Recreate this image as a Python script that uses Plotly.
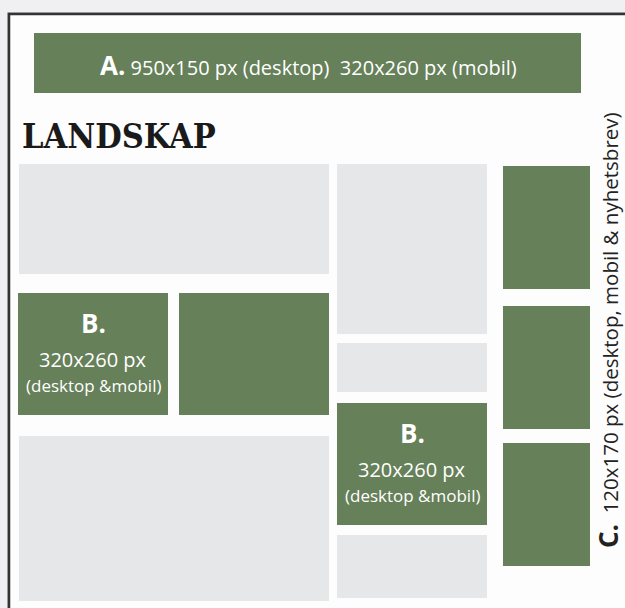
import plotly.graph_objects as go

# Layout diagram: ad placements on a page (units = diagram pixels)
box_names = ["A", "grey1", "B1", "B2", "grey2", "grey3", "grey4", "B3", "grey5", "C1", "C2", "C3"]
box_kind  = ["ad", "content", "ad", "ad", "content", "content", "content", "ad", "content", "ad", "ad", "ad"]
box_x0 = [34, 19, 18, 179, 19, 337, 337, 337, 337, 503, 503, 503]
box_x1 = [581, 329, 168, 329, 329, 487, 487, 487, 487, 590, 590, 590]
box_y0 = [33, 164, 293, 293, 436, 164, 343, 403, 535, 166, 306, 443]
box_y1 = [93, 274, 415, 415, 601, 334, 392, 525, 598, 289, 429, 566]

b_boxes = ["B1", "B3"]
b_lines = ["<b>B.</b>", "320x260 px", "(desktop &amp;mobil)"]
banner_text = "<span style='font-size:26px'><b>A.</b></span> 950x150 px (desktop)\u00a0 320x260 px (mobil)"
side_text = "<span style='font-size:26px'><b>C.</b></span>\u00a0 120x170 px (desktop, mobil &amp; nyhetsbrev)"
title_text = "LANDSKAP"

GREEN = "#668059"
GREY = "#e6e7e9"
W, H = 625, 608

fig = go.Figure()
fig.add_trace(go.Scatter(x=[0, W], y=[0, H], mode="markers", marker=dict(opacity=0), hoverinfo="skip", showlegend=False))

shapes = []
# page frame
shapes.append(dict(type="rect", xref="x", yref="y", x0=7.5, x1=W + 20, y0=12.5, y1=H + 20,
                   fillcolor="rgba(0,0,0,0)", line=dict(color="#bdbdbd", width=1), layer="below"))
shapes.append(dict(type="rect", xref="x", yref="y", x0=9, x1=W + 20, y0=14, y1=H + 20,
                   fillcolor="#fdfdfd", line=dict(color="#333333", width=2.5), layer="below"))
for k, x0, x1, y0, y1 in zip(box_kind, box_x0, box_x1, box_y0, box_y1):
    shapes.append(dict(type="rect", xref="x", yref="y", x0=x0, x1=x1, y0=y0, y1=y1,
                       fillcolor=GREEN if k == "ad" else GREY, line=dict(width=0), layer="above"))

ann = []
ia = box_names.index("A")
ann.append(dict(x=(box_x0[ia] + box_x1[ia]) / 2 + 1, y=(box_y0[ia] + box_y1[ia]) / 2 + 2, xref="x", yref="y",
                text=banner_text, showarrow=False, font=dict(family="Open Sans", size=20, color="white")))
ann.append(dict(x=20, y=136, xref="x", yref="y", xanchor="left", yanchor="middle", text="<b>%s</b>" % title_text,
                showarrow=False, font=dict(family="DejaVu Serif Condensed, Liberation Serif, serif", size=34, color="#1a1a1a")))
offsets = [30, 66, 92]
sizes = [26, 20, 17]
for name in b_boxes:
    i = box_names.index(name)
    cx = (box_x0[i] + box_x1[i]) / 2
    for line, off, sz in zip(b_lines, offsets, sizes):
        ann.append(dict(x=cx, y=box_y0[i] + off, xref="x", yref="y", text=line, showarrow=False,
                        font=dict(family="Open Sans", size=sz, color="white")))
ann.append(dict(x=608, y=330, xref="x", yref="y", text=side_text, textangle=-90, showarrow=False, borderpad=0,
                font=dict(family="Open Sans", size=20.5, color="#222222")))

fig.update_layout(width=W, height=H, margin=dict(l=0, r=0, t=0, b=0),
                  paper_bgcolor="#f0f0f2", plot_bgcolor="#f0f0f2",
                  xaxis=dict(range=[0, W], visible=False, fixedrange=True),
                  yaxis=dict(range=[H, 0], visible=False, fixedrange=True),
                  shapes=shapes, annotations=ann, showlegend=False)
fig.write_html("out.html", config={"displayModeBar": False},
               post_script="document.body.style.margin='0';document.body.style.background='#f0f0f2';document.body.style.overflow='hidden';")
